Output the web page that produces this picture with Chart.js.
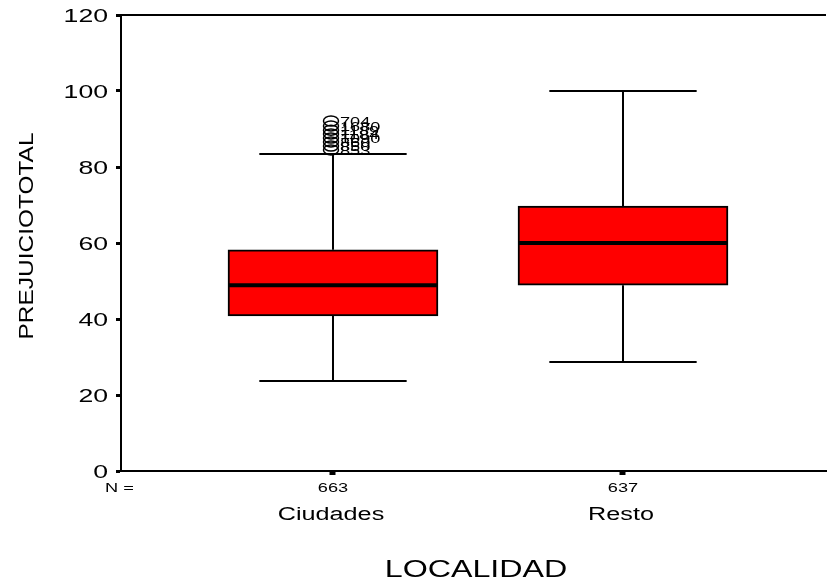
<!DOCTYPE html>
<html>
<head>
<meta charset="utf-8">
<script src="https://cdn.jsdelivr.net/npm/chart.js@4"></script>
<style>
  body { margin: 0; background: #fff; }
  #wrap { width: 827px; height: 583px; }
</style>
</head>
<body>
<div id="wrap"><canvas id="chart" width="827" height="583"></canvas></div>
<script>
const categories = ["Ciudades", "Resto"];
const counts = [663, 637];
const whiskerLow = [23.7, 28.7];
const q1 = [40.8, 48.9];
const median = [48.9, 60];
const q3 = [58.2, 69.7];
const whiskerHigh = [83.4, 100];
const outlierValues = [92.1, 90.8, 89.7, 88.7, 87.6, 86.6, 85.5, 84.5];
const outlierLabels = ["704", "1680", "1189", "1184", "1090", "860", "850", "853"];
const yTicks = [0, 20, 40, 60, 80, 100, 120];

const FONT = "'Liberation Sans', Arial, sans-serif";
const STRETCH = 1.4;

function stretchedText(ctx, text, x, y, size, align, baseline) {
  ctx.save();
  ctx.translate(x, y);
  ctx.scale(STRETCH, 1);
  ctx.font = size + "px " + FONT;
  ctx.textAlign = align;
  ctx.textBaseline = baseline || "alphabetic";
  ctx.fillStyle = "#000";
  ctx.fillText(text, 0, 0);
  ctx.restore();
}

const boxPlot = {
  id: "boxPlot",
  afterDatasetsDraw(chart) {
    const ctx = chart.ctx;
    const xs = chart.scales.x, ys = chart.scales.y;
    const area = chart.chartArea;
    ctx.save();
    ctx.strokeStyle = "#000";
    ctx.lineCap = "butt";

    // top frame line
    ctx.lineWidth = 2;
    ctx.beginPath();
    ctx.moveTo(area.left, area.top);
    ctx.lineTo(area.right, area.top);
    ctx.stroke();

    categories.forEach((c, i) => {
      const cx = xs.getPixelForValue(i);
      const capL = xs.getPixelForValue(i - 0.254), capR = xs.getPixelForValue(i + 0.254);
      const boxL = xs.getPixelForValue(i - 0.362), boxR = xs.getPixelForValue(i + 0.362);
      ctx.lineWidth = 2;
      ctx.beginPath();
      ctx.moveTo(cx, ys.getPixelForValue(whiskerLow[i]));
      ctx.lineTo(cx, ys.getPixelForValue(q1[i]));
      ctx.moveTo(cx, ys.getPixelForValue(q3[i]));
      ctx.lineTo(cx, ys.getPixelForValue(whiskerHigh[i]));
      ctx.moveTo(capL, ys.getPixelForValue(whiskerLow[i]));
      ctx.lineTo(capR, ys.getPixelForValue(whiskerLow[i]));
      ctx.moveTo(capL, ys.getPixelForValue(whiskerHigh[i]));
      ctx.lineTo(capR, ys.getPixelForValue(whiskerHigh[i]));
      ctx.stroke();
      ctx.lineWidth = 4;
      ctx.beginPath();
      ctx.moveTo(boxL, ys.getPixelForValue(median[i]));
      ctx.lineTo(boxR, ys.getPixelForValue(median[i]));
      ctx.stroke();

      stretchedText(ctx, String(counts[i]), cx, area.bottom + 21, 13, "center");
      stretchedText(ctx, c, cx - 2, area.bottom + 49, 18, "center");
    });

    // outliers of Ciudades
    const ox = xs.getPixelForValue(0) - 2;
    ctx.lineWidth = 1.5;
    outlierValues.forEach((v, k) => {
      const oy = ys.getPixelForValue(v);
      ctx.beginPath();
      ctx.ellipse(ox, oy, 7.5, 5, 0, 0, Math.PI * 2);
      ctx.stroke();
      stretchedText(ctx, outlierLabels[k], ox + 9, oy + 5, 13, "left");
    });

    // y tick labels
    yTicks.forEach(t => {
      stretchedText(ctx, String(t), area.left - 13, ys.getPixelForValue(t) + 7, 19, "right");
    });

    stretchedText(ctx, "N =", area.left - 16, area.bottom + 21, 13, "left");

    // axis titles
    stretchedText(ctx, "LOCALIDAD", 476, 577, 23, "center");
    ctx.save();
    ctx.translate(33, 236);
    ctx.rotate(-Math.PI / 2);
    ctx.font = "21px " + FONT;
    const w = ctx.measureText("PREJUICIOTOTAL").width;
    ctx.scale(207 / w, 1);
    ctx.textAlign = "center";
    ctx.textBaseline = "alphabetic";
    ctx.fillStyle = "#000";
    ctx.fillText("PREJUICIOTOTAL", 0, 0);
    ctx.restore();

    ctx.restore();
  }
};

new Chart(document.getElementById("chart"), {
  type: "bar",
  data: {
    datasets: [{
      data: categories.map((c, i) => ({ x: i, y: [q1[i], q3[i]] })),
      backgroundColor: "#ff0000",
      borderColor: "#000",
      borderWidth: 2,
      borderSkipped: false,
      barThickness: 210
    }]
  },
  options: {
    responsive: false,
    animation: false,
    layout: { padding: { left: 0, right: 1, top: 15, bottom: 92 } },
    plugins: { legend: { display: false }, tooltip: { enabled: false } },
    scales: {
      x: {
        type: "linear",
        offset: false,
        min: -0.731,
        max: 1.70,
        afterBuildTicks: s => { s.ticks = [{ value: 0 }, { value: 1 }]; },
        afterFit: s => { s.height = 20; },
        ticks: { display: false },
        grid: { offset: false, drawOnChartArea: false, tickLength: 4, tickWidth: 6, color: "#000" },
        border: { color: "#000", width: 2 }
      },
      y: {
        min: 0,
        max: 120,
        afterBuildTicks: s => { s.ticks = yTicks.map(v => ({ value: v })); },
        afterFit: s => { s.width = 121; },
        ticks: { display: false },
        grid: { drawOnChartArea: false, tickLength: 5, tickWidth: 3, color: "#000" },
        border: { color: "#000", width: 2 }
      }
    }
  },
  plugins: [boxPlot]
});
</script>
</body>
</html>
